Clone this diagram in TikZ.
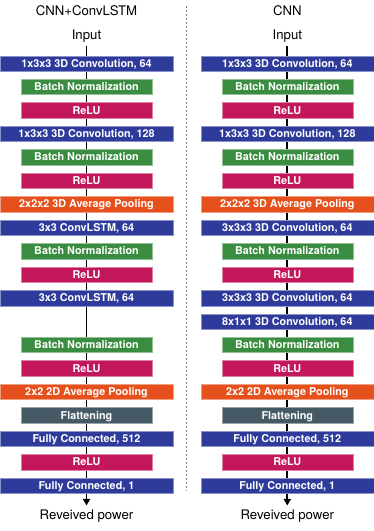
\documentclass[tikz,border=0pt]{standalone}
\usepackage{fontspec}
\setmainfont{TeX Gyre Heros}
\usetikzlibrary{arrows.meta,backgrounds}
\definecolor{cBlue}{HTML}{2E3B9B}
\definecolor{cGreen}{HTML}{3A8D40}
\definecolor{cPink}{HTML}{C2185B}
\definecolor{cOrange}{HTML}{E6501C}
\definecolor{cSlate}{HTML}{455A64}
\definecolor{cDash}{HTML}{808080}
\begin{document}
\begin{tikzpicture}[x=1pt,y=-1pt,
  layerbox/.style={inner sep=0pt, text=white, font=\fontsize{10.8}{12}\selectfont\bfseries,
    text height=7.75pt, text depth=0pt, minimum height=15.5pt, line width=0.5pt},
  widebox/.style={layerbox, minimum width=173pt},
  narrowbox/.style={layerbox, minimum width=131pt},
  convbox/.style={widebox, fill=cBlue, draw=cBlue!55!white},
  poolbox/.style={widebox, fill=cOrange, draw=cOrange!55!white},
  bnbox/.style={narrowbox, fill=cGreen, draw=cGreen!55!white},
  relubox/.style={narrowbox, fill=cPink, draw=cPink!55!white},
  flatbox/.style={narrowbox, fill=cSlate, draw=cSlate!55!white},
  plaintext/.style={inner sep=0pt, anchor=base, font=\fontsize{13.2}{15}\selectfont},
  flowline/.style={line width=1.8pt, -{Triangle[length=6.5pt,width=7pt]}},
  divider/.style={cDash, line width=1pt, dash pattern=on 2pt off 2pt}
]
\useasboundingbox (0,0) rectangle (374,531);

% titles
\node[plaintext] (tL) at (86.5,15.7) {CNN+ConvLSTM};
\node[plaintext] (tR) at (287.3,15.7) {CNN};
\node[plaintext] (inL) at (86.5,39.5) {Input};
\node[plaintext] (inR) at (287.3,39.5) {Input};
\node[plaintext] (outL) at (86.5,519.3) {Reveived power};
\node[plaintext] (outR) at (287.3,519.3) {Reveived power};

% left column
\node[convbox]  (L0)  at (86.5,63.5)  {1x3x3 3D Convolution, 64};
\node[bnbox]    (L1)  at (86.5,86.8)  {Batch Normalization};
\node[relubox]  (L2)  at (86.5,110.2) {ReLU};
\node[convbox]  (L3)  at (86.5,133.7) {1x3x3 3D Convolution, 128};
\node[bnbox]    (L4)  at (86.5,157.1) {Batch Normalization};
\node[relubox]  (L5)  at (86.5,180.5) {ReLU};
\node[poolbox]  (L6)  at (86.5,204)   {2x2x2 3D Average Pooling};
\node[convbox]  (L7)  at (86.5,227.5) {3x3 ConvLSTM, 64};
\node[bnbox]    (L8)  at (86.5,251)   {Batch Normalization};
\node[relubox]  (L9)  at (86.5,274.5) {ReLU};
\node[convbox]  (L10) at (86.5,298)   {3x3 ConvLSTM, 64};
\node[bnbox]    (L12) at (86.5,344.8) {Batch Normalization};
\node[relubox]  (L13) at (86.5,368.2) {ReLU};
\node[poolbox]  (L14) at (86.5,391.6) {2x2 2D Average Pooling};
\node[flatbox]  (L15) at (86.5,415.2) {Flattening};
\node[convbox]  (L16) at (86.5,438.7) {Fully Connected, 512};
\node[relubox]  (L17) at (86.5,462.1) {ReLU};
\node[convbox]  (L18) at (86.5,485.6) {Fully Connected, 1};

% right column
\node[convbox]  (R0)  at (287.3,63.5)  {1x3x3 3D Convolution, 64};
\node[bnbox]    (R1)  at (287.3,86.8)  {Batch Normalization};
\node[relubox]  (R2)  at (287.3,110.2) {ReLU};
\node[convbox]  (R3)  at (287.3,133.7) {1x3x3 3D Convolution, 128};
\node[bnbox]    (R4)  at (287.3,157.1) {Batch Normalization};
\node[relubox]  (R5)  at (287.3,180.5) {ReLU};
\node[poolbox]  (R6)  at (287.3,204)   {2x2x2 3D Average Pooling};
\node[convbox]  (R7)  at (287.3,227.5) {3x3x3 3D Convolution, 64};
\node[bnbox]    (R8)  at (287.3,251)   {Batch Normalization};
\node[relubox]  (R9)  at (287.3,274.5) {ReLU};
\node[convbox]  (R10) at (287.3,298)   {3x3x3 3D Convolution, 64};
\node[convbox]  (R11) at (287.3,321.5) {8x1x1 3D Convolution, 64};
\node[bnbox]    (R12) at (287.3,344.8) {Batch Normalization};
\node[relubox]  (R13) at (287.3,368.2) {ReLU};
\node[poolbox]  (R14) at (287.3,391.6) {2x2 2D Average Pooling};
\node[flatbox]  (R15) at (287.3,415.2) {Flattening};
\node[convbox]  (R16) at (287.3,438.7) {Fully Connected, 512};
\node[relubox]  (R17) at (287.3,462.1) {ReLU};
\node[convbox]  (R18) at (287.3,485.6) {Fully Connected, 1};

% divider
\coordinate (dTop) at (186.3,6);
\coordinate (dBot) at (186.3,491);
\draw[divider] (dTop) -- (dBot);

% flow lines behind boxes
\begin{scope}[on background layer]
  \draw[flowline] ([yshift=-3.5pt]inL.south) -- ([yshift=4pt]outL.north);
  \draw[flowline] ([yshift=-3.5pt]inR.south) -- ([yshift=4pt]outR.north);
\end{scope}
\end{tikzpicture}
\end{document}
